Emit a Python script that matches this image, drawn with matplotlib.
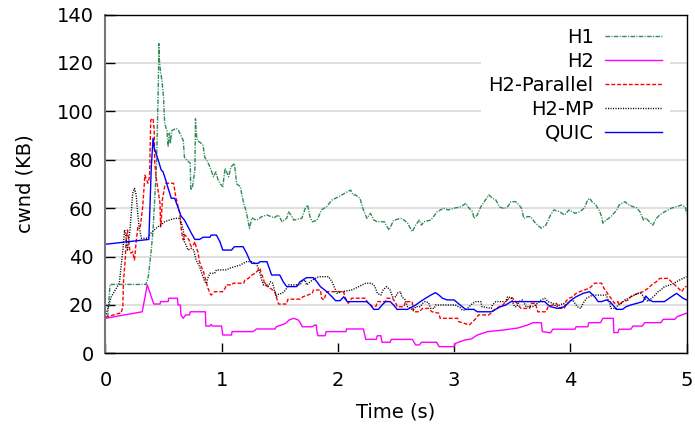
import matplotlib
matplotlib.use("Agg")
import matplotlib.pyplot as plt
import numpy as np

plt.rcParams['font.family'] = ['DejaVu Sans']

# ---- data: (time s, cwnd KB) ----
h1_points = [(0.02, 15), (0.04, 28.5), (0.35, 28.5), (0.37, 32), (0.395, 43), (0.41, 51), (0.42, 60),
             (0.44, 78), (0.455, 110), (0.46, 128), (0.465, 121), (0.475, 116), (0.486, 113), (0.50, 106),
             (0.51, 95), (0.53, 92), (0.54, 85.4), (0.55, 91), (0.56, 86.8), (0.57, 92), (0.61, 93),
             (0.63, 92), (0.67, 88), (0.68, 81), (0.73, 78.5), (0.735, 67.5), (0.75, 69), (0.77, 75.8),
             (0.775, 97), (0.78, 92), (0.79, 88), (0.82, 87), (0.84, 86), (0.855, 81), (0.87, 80),
             (0.90, 77), (0.93, 73), (0.95, 75), (0.97, 71.6), (0.99, 70), (1.01, 68.9), (1.03, 76.5),
             (1.06, 73), (1.08, 77), (1.11, 78.5), (1.13, 70), (1.16, 69), (1.19, 62), (1.21, 59),
             (1.24, 51.7), (1.26, 56), (1.30, 55), (1.345, 56.5), (1.39, 57.2), (1.45, 56), (1.49, 57.2),
             (1.52, 54.4), (1.56, 55.8), (1.575, 58.5), (1.60, 57), (1.62, 55.1), (1.69, 55.8), (1.72, 60),
             (1.74, 61.3), (1.76, 56.5), (1.78, 54.4), (1.82, 55), (1.86, 59.3), (1.905, 60.7), (1.95, 63.4),
             (2.01, 64.8), (2.06, 66.2), (2.11, 67.5), (2.13, 65.5), (2.15, 65.5), (2.19, 64.1), (2.22, 59.3),
             (2.25, 55.8), (2.28, 57.9), (2.31, 55.1), (2.34, 54.4), (2.40, 54.4), (2.44, 51), (2.48, 55),
             (2.54, 55.8), (2.57, 55.1), (2.60, 53.8), (2.64, 50.3), (2.67, 53), (2.70, 55.1), (2.72, 53),
             (2.74, 54.4), (2.80, 55.1), (2.855, 58.5), (2.91, 60), (2.95, 59.3), (3.0, 60), (3.06, 60.6),
             (3.10, 62), (3.13, 60), (3.16, 58.5), (3.17, 55.8), (3.20, 57.2), (3.23, 60.6), (3.27, 63.4),
             (3.30, 65.5), (3.33, 64.1), (3.36, 63.4), (3.39, 60.6), (3.43, 59.8), (3.46, 60.6), (3.49, 62.7),
             (3.53, 62.7), (3.56, 61.3), (3.58, 60), (3.60, 55.8), (3.63, 56.5), (3.66, 56.5), (3.69, 54.4),
             (3.72, 53), (3.75, 51.7), (3.79, 53), (3.83, 57.2), (3.86, 59.3), (3.91, 58.5), (3.95, 57.2),
             (3.99, 59.3), (4.04, 57.9), (4.08, 58.5), (4.12, 60), (4.15, 63.4), (4.165, 64.1), (4.19, 62.5),
             (4.22, 61.3), (4.25, 59), (4.27, 56.5), (4.28, 53.8), (4.31, 55.1), (4.35, 56.5), (4.40, 59.3),
             (4.42, 61.3), (4.47, 62.7), (4.50, 61.5), (4.54, 60.6), (4.57, 60.2), (4.60, 58.5), (4.63, 55.1),
             (4.65, 56), (4.68, 54.4), (4.71, 53), (4.74, 55.8), (4.77, 57.2), (4.81, 58.5), (4.87, 60),
             (4.91, 60.6), (4.96, 61.3), (4.99, 60.5), (5.0, 57.9)]

h2_points = [(0, 14.5), (0.317, 17.2), (0.36, 28.3), (0.38, 25.5), (0.40, 22.7), (0.417, 20.4), (0.47, 20.4),
             (0.475, 21.4), (0.54, 21.4), (0.545, 22.8), (0.62, 22.8), (0.625, 20), (0.645, 20), (0.65, 15.9),
             (0.67, 14.5), (0.69, 15.9), (0.725, 15.9), (0.73, 17.2), (0.86, 17.2), (0.864, 11.3), (0.90, 11.3),
             (0.91, 12), (0.92, 11.3), (1.0, 11.3), (1.01, 7.6), (1.085, 7.6), (1.09, 9), (1.27, 9), (1.30, 10.1),
             (1.46, 10.1), (1.47, 11), (1.55, 12.4), (1.58, 13.8), (1.62, 14.5), (1.66, 13.8), (1.68, 12.4),
             (1.695, 11), (1.78, 11), (1.80, 11.7), (1.815, 11.7), (1.82, 9), (1.83, 7.3), (1.89, 7.3),
             (1.9, 9), (2.07, 9), (2.075, 10.1), (2.22, 10.1), (2.24, 5.8), (2.33, 5.8), (2.34, 7.3),
             (2.37, 7.3), (2.38, 4.6), (2.45, 4.6), (2.46, 5.8), (2.64, 5.8), (2.67, 3.5), (2.70, 3.5),
             (2.72, 4.6), (2.85, 4.6), (2.87, 2.8), (3.0, 2.8), (3.01, 4.1), (3.09, 5.5), (3.15, 6.0),
             (3.2, 7.6), (3.29, 9), (3.43, 9.7), (3.55, 10.5), (3.63, 11.7), (3.68, 12.7), (3.75, 12.7),
             (3.76, 9), (3.83, 8.5), (3.85, 10), (4.04, 10), (4.05, 11), (4.15, 11), (4.16, 12.7),
             (4.26, 12.7), (4.28, 14.5), (4.37, 14.5), (4.375, 8.6), (4.41, 8.6), (4.42, 10), (4.52, 10),
             (4.54, 11.3), (4.62, 11.3), (4.64, 12.7), (4.78, 12.7), (4.80, 14.1), (4.90, 14.1),
             (4.92, 15.2), (5.0, 16.6)]

h2_parallel_points = [(0, 14.9), (0.12, 16.6), (0.135, 16.6), (0.15, 19.3), (0.155, 29), (0.17, 38.6),
             (0.18, 47.6), (0.19, 51), (0.21, 42.7), (0.22, 41.4), (0.235, 42), (0.25, 38.6), (0.265, 46.2),
             (0.28, 52.4), (0.30, 52.4), (0.32, 60), (0.34, 73.7), (0.365, 70.3), (0.38, 73), (0.39, 96.4),
             (0.41, 97.1), (0.42, 92.3), (0.425, 78.5), (0.44, 71.6), (0.47, 62), (0.475, 52.3), (0.48, 54.4),
             (0.49, 63.4), (0.51, 68.9), (0.52, 70.3), (0.587, 70.3), (0.596, 67.5), (0.605, 64.8),
             (0.64, 57.9), (0.65, 52.3), (0.66, 49), (0.67, 46.9), (0.68, 49), (0.70, 48.2), (0.72, 46.9),
             (0.725, 45.5), (0.74, 44.1), (0.76, 45), (0.77, 46.2), (0.78, 44.1), (0.80, 41.4), (0.805, 38.6),
             (0.825, 35.8), (0.84, 34.5), (0.855, 31.7), (0.87, 29), (0.883, 26.9), (0.90, 24.8), (0.91, 24.1),
             (0.94, 25.5), (1.01, 25.5), (1.03, 26.9), (1.04, 28.3), (1.09, 28.3), (1.10, 29), (1.19, 29),
             (1.20, 30.3), (1.23, 31), (1.26, 32.4), (1.29, 33.1), (1.315, 34.5), (1.33, 35.2), (1.34, 33),
             (1.36, 31), (1.37, 28.3), (1.40, 27.6), (1.43, 26.5), (1.46, 25.5), (1.47, 23.4), (1.49, 20.4),
             (1.56, 20.4), (1.57, 22.4), (1.675, 22.4), (1.70, 23.4), (1.78, 24.8), (1.79, 26.2), (1.85, 26.2),
             (1.86, 22.8), (1.88, 22.1), (1.905, 25.5), (2.05, 25.5), (2.06, 23.4), (2.09, 20.7), (2.12, 22.8),
             (2.24, 22.8), (2.25, 21.4), (2.30, 19.3), (2.33, 19.6), (2.34, 21.4), (2.41, 21.4), (2.42, 22.8),
             (2.47, 22.8), (2.50, 20.7), (2.51, 19.3), (2.57, 19.3), (2.58, 21.4), (2.64, 21.4), (2.65, 17.2),
             (2.70, 17.2), (2.73, 18.6), (2.78, 18.6), (2.81, 17.2), (2.87, 16.6), (2.88, 14.5), (3.03, 14.5),
             (3.04, 13.1), (3.09, 12.4), (3.13, 11.7), (3.16, 13.1), (3.19, 14.5), (3.21, 15.9), (3.30, 15.9),
             (3.33, 17.2), (3.36, 18.6), (3.42, 20), (3.445, 21.4), (3.475, 22.8), (3.50, 23), (3.53, 21.4),
             (3.575, 18.6), (3.65, 18.6), (3.66, 20.7), (3.70, 20.7), (3.72, 17.2), (3.79, 17.2), (3.81, 19.3),
             (3.85, 20), (3.88, 20.7), (3.91, 18.6), (3.95, 18.6), (3.96, 21.4), (3.99, 22.8), (4.02, 23.4),
             (4.05, 24.8), (4.08, 25.5), (4.12, 26.2), (4.165, 26.9), (4.21, 29), (4.27, 29), (4.29, 26.9),
             (4.32, 24.8), (4.35, 22.8), (4.38, 20.7), (4.41, 21.4), (4.42, 20), (4.45, 21.4), (4.50, 22.1),
             (4.52, 23.4), (4.58, 24.8), (4.625, 25.5), (4.67, 26.9), (4.70, 28.3), (4.74, 29.6), (4.77, 31),
             (4.84, 31), (4.87, 29.6), (4.90, 28.3), (4.93, 26.9), (4.96, 25.5), (4.985, 27.6), (5.0, 27.6)]

h2_mp_points = [(0, 15.2), (0.05, 23.4), (0.12, 29), (0.15, 42.7), (0.165, 51), (0.175, 49), (0.19, 42.7),
             (0.21, 50), (0.235, 66.2), (0.25, 68.2), (0.265, 65.5), (0.28, 56.5), (0.29, 52.3), (0.31, 47.6),
             (0.365, 47.6), (0.39, 49.6), (0.42, 51), (0.45, 52.3), (0.48, 53.1), (0.51, 54.4), (0.55, 55.1),
             (0.596, 55.8), (0.64, 55.8), (0.65, 54.4), (0.67, 51), (0.68, 46.2), (0.70, 44.1), (0.71, 42.7),
             (0.74, 43.4), (0.76, 42.7), (0.78, 38.6), (0.81, 35.8), (0.83, 33.1), (0.84, 31.7), (0.855, 29.6),
             (0.87, 29), (0.88, 31), (0.90, 33.1), (0.94, 33.1), (0.955, 34.5), (1.04, 34.5), (1.07, 35.2),
             (1.11, 35.8), (1.16, 36.5), (1.185, 37.2), (1.215, 37.9), (1.26, 37.9), (1.30, 37), (1.315, 35.2),
             (1.33, 33.1), (1.345, 30.3), (1.36, 28.3), (1.38, 29), (1.40, 27.6), (1.42, 29.6), (1.44, 29),
             (1.46, 24.8), (1.47, 23.4), (1.49, 24.5), (1.52, 24.8), (1.55, 26.2), (1.575, 28.3), (1.675, 28.3),
             (1.69, 29.6), (1.72, 30.3), (1.73, 28.3), (1.78, 30.3), (1.835, 31.7), (1.92, 31.7), (1.95, 29.6),
             (1.98, 26.2), (1.99, 24.8), (2.035, 25.5), (2.12, 26.2), (2.18, 27.6), (2.21, 28.3), (2.24, 29),
             (2.29, 29), (2.32, 27.6), (2.34, 24.8), (2.37, 24.1), (2.39, 26.2), (2.42, 27.6), (2.45, 26.2),
             (2.47, 23.4), (2.50, 23.4), (2.51, 24.8), (2.54, 25.5), (2.55, 23.4), (2.58, 22.1), (2.60, 19.3),
             (2.625, 18.6), (2.65, 17.9), (2.67, 19.3), (2.71, 19.3), (2.73, 20.7), (2.75, 21.4), (2.78, 21),
             (2.80, 18.6), (2.83, 18.6), (2.84, 20), (3.01, 20), (3.05, 19), (3.07, 17.9), (3.10, 17.9),
             (3.13, 19.3), (3.16, 20.7), (3.19, 21.4), (3.23, 21.4), (3.24, 19.3), (3.32, 18.6), (3.33, 20),
             (3.36, 21.4), (3.445, 21.4), (3.46, 23.4), (3.49, 23), (3.52, 19.3), (3.54, 19.3), (3.56, 21.4),
             (3.59, 22.1), (3.62, 19.3), (3.675, 19.3), (3.70, 20), (3.75, 22.1), (3.78, 22.8), (3.81, 21.4),
             (3.85, 20.7), (3.88, 19.3), (3.94, 20.7), (3.96, 20), (3.99, 21.4), (4.02, 22.1), (4.06, 19.3),
             (4.09, 18.6), (4.11, 20.7), (4.12, 21.4), (4.14, 22.8), (4.165, 23.4), (4.19, 24.1), (4.31, 24.1),
             (4.32, 22.8), (4.34, 20.7), (4.35, 18.6), (4.395, 18.6), (4.41, 20), (4.44, 20.7), (4.47, 22.1),
             (4.50, 22.8), (4.52, 23.4), (4.58, 24.8), (4.61, 24.8), (4.64, 22.8), (4.67, 21.4), (4.70, 22.8),
             (4.73, 24.1), (4.755, 25.5), (4.78, 26.2), (4.81, 27.6), (4.86, 28.3), (4.915, 29.6), (4.94, 30.3),
             (4.97, 31), (5.0, 31.7)]

quic_points = [(0, 45.1), (0.374, 47.1), (0.395, 77.2), (0.41, 88.9), (0.42, 84.8), (0.45, 80.6), (0.48, 75.8),
             (0.495, 75.1), (0.51, 73), (0.54, 68.2), (0.567, 64.1), (0.596, 64.1), (0.625, 60.3), (0.65, 56.8),
             (0.68, 55.1), (0.71, 52.4), (0.74, 49.6), (0.77, 47.1), (0.81, 47.1), (0.84, 48), (0.90, 48),
             (0.91, 48.9), (0.955, 48.9), (0.985, 46.2), (1.01, 42.7), (1.085, 42.7), (1.11, 44.1), (1.185, 44.1),
             (1.215, 41.4), (1.24, 38.6), (1.26, 37.2), (1.315, 37.2), (1.33, 37.9), (1.39, 37.9), (1.415, 34.5),
             (1.43, 32.4), (1.50, 32.4), (1.53, 29.6), (1.56, 27.6), (1.645, 27.6), (1.675, 29.6), (1.73, 31.3),
             (1.79, 31.3), (1.82, 29.6), (1.85, 27.6), (1.905, 25.5), (1.95, 23.4), (1.98, 21.8), (2.02, 21.8),
             (2.05, 23.4), (2.08, 21.4), (2.25, 21.4), (2.28, 20), (2.31, 18.2), (2.35, 18.2), (2.38, 20),
             (2.41, 21.4), (2.45, 21.4), (2.48, 20), (2.51, 18.2), (2.60, 18.2), (2.67, 20), (2.71, 21.4),
             (2.755, 22.8), (2.80, 24.1), (2.84, 25.1), (2.87, 24.1), (2.90, 22.8), (2.94, 22.1), (3.0, 22.1),
             (3.07, 19.3), (3.10, 18.2), (3.17, 18.2), (3.20, 17.2), (3.32, 17.2), (3.40, 19.3), (3.445, 20),
             (3.49, 21.4), (3.78, 21.4), (3.81, 20), (3.83, 19.3), (3.89, 18.6), (3.95, 19.3), (3.98, 20.7),
             (4.01, 22.1), (4.05, 23.4), (4.11, 24.8), (4.165, 25.5), (4.21, 23.4), (4.24, 21.4), (4.27, 21.4),
             (4.31, 22.1), (4.34, 21.4), (4.38, 19.3), (4.395, 18.2), (4.45, 18.2), (4.48, 19.3), (4.52, 20),
             (4.625, 21.4), (4.65, 23.7), (4.68, 22.1), (4.71, 21.4), (4.81, 21.4), (4.87, 23.4), (4.915, 24.8),
             (4.97, 22.8), (5.0, 22.1)]

series_names = ["H1", "H2", "H2-Parallel", "H2-MP", "QUIC"]
x_ticks = [0, 1, 2, 3, 4, 5]
y_ticks = [0, 20, 40, 60, 80, 100, 120, 140]

styles = [
    dict(color="#2e8b57", dashes=(3.2, 1.0, 0.8, 1.0)),
    dict(color="#ff00ff", linestyle="-"),
    dict(color="#ff0000", dashes=(2.8, 1.4)),
    dict(color="#000000", dashes=(0.8, 1.0)),
    dict(color="#0000ff", linestyle="-"),
]

fig = plt.figure(figsize=(6.95, 4.30), dpi=100)
ax = fig.add_axes([105.4 / 695, 1 - 353.4 / 430, (686.5 - 105.4) / 695, (353.4 - 14.6) / 430])

all_series = [h1_points, h2_points, h2_parallel_points, h2_mp_points, quic_points]
for name, pts, st in zip(series_names, all_series, styles):
    arr = np.array(pts, dtype=float)
    ax.plot(arr[:, 0], arr[:, 1], lw=1.0, label=name, **st)

ax.set_xlim(0, 5)
ax.set_ylim(0, 140)
ax.set_xticks(x_ticks)
ax.set_yticks(y_ticks)
ax.yaxis.grid(True, color="#dcdcdc", lw=1.3)
ax.set_axisbelow(True)
ax.tick_params(direction="in", length=7, width=1.0, labelsize=14, colors="black")
ax.tick_params(axis="x", pad=13)
ax.tick_params(axis="y", pad=8.5)
for s in ["top", "right", "bottom"]:
    ax.spines[s].set_color("black")
    ax.spines[s].set_linewidth(1.0)
ax.spines["left"].set_color("#777777")
ax.spines["left"].set_linewidth(1.5)

ax.set_xlabel("Time (s)", fontsize=14, labelpad=8.5)
ax.set_ylabel("cwnd (KB)", fontsize=14, labelpad=16)

leg = ax.legend(loc="upper right", bbox_to_anchor=(0.9713, 0.983), markerfirst=False, fontsize=14,
                handlelength=2.95, handletextpad=0.57, labelspacing=0.25, borderpad=0.4,
                borderaxespad=0.0, frameon=True, fancybox=False)
leg.get_frame().set_facecolor("white")
leg.get_frame().set_edgecolor("none")
leg.get_frame().set_alpha(1.0)
for col in leg._legend_handle_box.get_children():
    col.align = "right"

fig.savefig("out.png", dpi=100)
